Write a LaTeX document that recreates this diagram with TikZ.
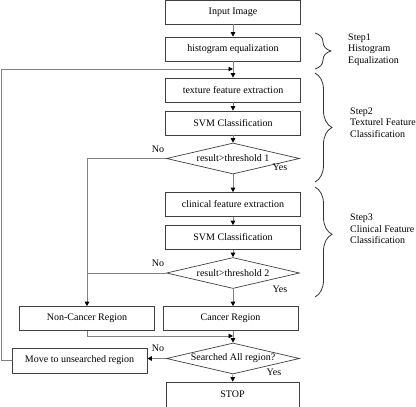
\documentclass[tikz,border=0pt]{standalone}
\usepackage{fontspec}
\setmainfont{Liberation Serif}
\usetikzlibrary{shapes.geometric,arrows.meta,decorations.pathreplacing}

\begin{document}
\begin{tikzpicture}[
    x=1pt, y=-1pt,
    font=\fontsize{10}{11.5}\selectfont,
    box/.style={draw=black!75, line width=0.7pt, rectangle, minimum width=135pt, minimum height=24pt, inner sep=1pt},
    test/.style={draw=black!75, line width=0.7pt, diamond, aspect=4.3, minimum width=133pt, minimum height=31pt, inner sep=0pt},
    line/.style={draw=black!50, line width=0.8pt},
    arr/.style={line, -{Triangle[length=4.5pt,width=4.5pt,color=black]}},
    curly/.style={draw=black!80, line width=0.8pt, decorate, decoration={brace, amplitude=17pt}},
    steptext/.style={anchor=west, align=left, inner sep=0pt}
    ]
    \useasboundingbox (0,0) rectangle (416,407);

    \node[box] (input) at (233,12) {Input Image};
    \node[box] (histeq) at (233,49) {histogram equalization};
    \node[box] (texture) at (233,90) {texture feature extraction};
    \node[box] (svmA) at (233,123) {SVM Classification};
    \node[test] (testA) at (233,158.5) {result>threshold 1};
    \node[box] (clinical) at (233,204.5) {clinical feature extraction};
    \node[box] (svmB) at (233,237.5) {SVM Classification};
    \node[test] (testB) at (233,273) {result>threshold 2};
    \node[box] (noncancer) at (87,318.5) {Non-Cancer Region};
    \node[box] (cancer) at (230.5,318.5) {Cancer Region};
    \node[test] (testC) at (233,358.5) {Searched All region?};
    \node[box, minimum height=25pt] (move) at (79.5,360.5) {Move to unsearched region};
    \node[box, minimum width=133pt, minimum height=25pt] (stop) at (232.5,394.5) {STOP};

    \coordinate (mergeA) at (233,69);
    \coordinate (mergeB) at (233,336);

    \draw[arr] (input) -- (histeq);
    \draw[line] (histeq) -- (mergeA);
    \draw[arr] (mergeA) -- (texture);
    \draw[arr] (texture) -- (svmA);
    \draw[arr] (svmA) -- (testA);
    \draw[arr] (testA) -- (clinical);
    \draw[arr] (clinical) -- (svmB);
    \draw[arr] (svmB) -- (testB);
    \draw[arr] (testB.south) -- (testB.south |- cancer.north);
    \draw[arr] (testA.west) -| (noncancer.north);
    \draw[line] (testB.west) -- (testB.west -| noncancer.north);
    \draw[arr] (noncancer.south) |- (mergeB);
    \draw[arr] (cancer.south -| testC.north) -- (testC.north);
    \draw[arr] (testC) -- (stop);
    \draw[arr] (testC.west) -- (testC.west -| move.east);
    \draw[arr] (move.west) -- ++(-10,0) |- (mergeA);

    \node (noA) at (158,149) {No};
    \node (yesA) at (280,167) {Yes};
    \node (noB) at (158,263) {No};
    \node (yesB) at (280,289) {Yes};
    \node (noC) at (158,348) {No};
    \node (yesC) at (274,372) {Yes};

    \draw[curly, decoration={amplitude=16pt}] (315,33) -- (315,69);
    \draw[curly] (315,73) -- (315,182);
    \draw[curly, decoration={aspect=0.43}] (315,187) -- (315,297);

    \node[steptext] (stepA) at (348,49.5) {Step1\\Histogram\\Equalization};
    \node[steptext] (stepB) at (350,122.5) {Step2\\Texturel Feature\\Classification};
    \node[steptext] (stepC) at (350,229) {Step3\\Clinical Feature\\Classification};
\end{tikzpicture}
\end{document}
